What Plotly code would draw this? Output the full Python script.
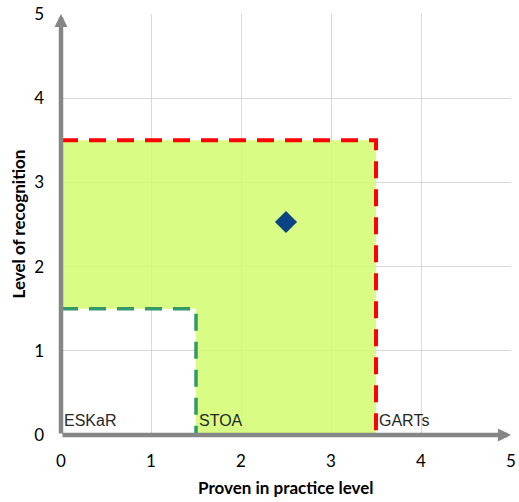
import plotly.graph_objects as go

# Data
zone_labels = ["ESKaR", "STOA", "GARTs"]
zone_levels = [0.0, 1.5, 3.5]
point_x = [2.5]
point_y = [2.53]
x_ticks = [0, 1, 2, 3, 4, 5]
y_ticks = [0, 1, 2, 3, 4, 5]
x_title = "Proven in practice level"
y_title = "Level of recognition"

lo = zone_levels[1]
hi = zone_levels[2]

fig = go.Figure()

# Green filled region between STOA and GARTs levels
fig.add_trace(go.Scatter(
    x=[0, 0, hi, hi, lo, lo, 0],
    y=[lo, hi, hi, 0, 0, lo, lo],
    fill="toself", fillcolor="rgba(209,251,110,0.85)",
    mode="lines", line=dict(width=0), hoverinfo="skip", showlegend=False))

# STOA dashed boundary
fig.add_trace(go.Scatter(
    x=[0, lo, lo], y=[lo, lo, 0], mode="lines",
    line=dict(color="#339966", width=3.5, dash="17px,11px"),
    showlegend=False, hoverinfo="skip"))

# GARTs dashed boundary
fig.add_trace(go.Scatter(
    x=[0, hi, hi], y=[hi, hi, 0], mode="lines",
    line=dict(color="#ff0000", width=4, dash="17px,11px"),
    showlegend=False, hoverinfo="skip"))

# Point
fig.add_trace(go.Scatter(
    x=point_x, y=point_y, mode="markers",
    marker=dict(symbol="diamond", size=17, color="#0b4383"),
    showlegend=False))

annotations = []
for lab, lev in zip(zone_labels, zone_levels):
    annotations.append(dict(x=lev, y=0.17, xref="x", yref="y", text=lab,
                            showarrow=False, xanchor="left", yanchor="middle", xshift=1,
                            font=dict(family="Liberation Sans", size=16, color="#262626")))

# Axis arrows
annotations.append(dict(x=5, y=0, ax=0, ay=0, xref="x", yref="y", axref="x", ayref="y",
                        text="", showarrow=True, arrowhead=2, arrowsize=0.58, arrowwidth=4.5,
                        arrowcolor="#868686"))
annotations.append(dict(x=0, y=5, ax=0, ay=0, xref="x", yref="y", axref="x", ayref="y",
                        text="", showarrow=True, arrowhead=2, arrowsize=0.58, arrowwidth=4.5,
                        arrowcolor="#868686"))

# Axis titles
annotations.append(dict(x=0.5, y=0, xref="paper", yref="paper", yshift=-52,
                        text="<b>%s</b>" % x_title, showarrow=False,
                        xanchor="center", yanchor="middle",
                        font=dict(family="Lato", size=17, color="#000000")))
annotations.append(dict(x=0, y=0.5, xref="paper", yref="paper", xshift=-43,
                        text="<b>%s</b>" % y_title, showarrow=False, textangle=-90,
                        xanchor="center", yanchor="middle",
                        font=dict(family="Lato", size=17, color="#000000")))

fig.update_layout(
    width=519, height=502,
    margin=dict(l=61, r=8, t=14, b=67),
    plot_bgcolor="white", paper_bgcolor="white",
    annotations=annotations,
    font=dict(family="Lato", size=17, color="#000000"),
)
fig.update_xaxes(range=[0, 5], tickvals=x_ticks, showgrid=True, gridcolor="#d9d9d9",
                 gridwidth=1, zeroline=False, showline=False, ticks="", automargin=False,
                 ticklabelstandoff=14, tickfont=dict(size=17), ticklabeloverflow="allow")
fig.update_yaxes(range=[0, 5], tickvals=y_ticks, showgrid=True, gridcolor="#d9d9d9",
                 gridwidth=1, zeroline=False, showline=False, ticks="", automargin=False,
                 ticklabelstandoff=16, tickfont=dict(size=17), ticklabeloverflow="allow")

fig.write_html("out.html", config={"displayModeBar": False},
               post_script="document.body.style.margin='0';")
